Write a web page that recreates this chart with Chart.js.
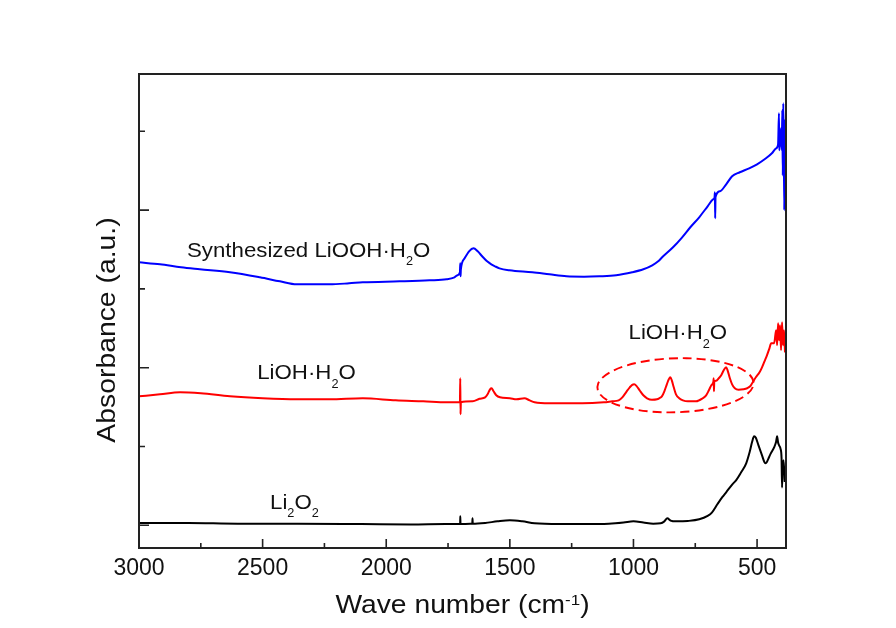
<!DOCTYPE html>
<html>
<head>
<meta charset="utf-8">
<script src="https://cdn.jsdelivr.net/npm/chart.js@4.4.1/dist/chart.umd.min.js"></script>
<style>
  html, body { margin: 0; padding: 0; background: #fff; }
  canvas { display: block; }
</style>
</head>
<body>
<canvas id="c" width="896" height="628"></canvas>
<script>
// FTIR spectra, wavenumber (cm-1) vs. absorbance (offset, arbitrary units)
const wnLiOOH = [3000,2915,2830,2754,2632,2511,2430,2362,2229,2150,2095,1946,1825,1756,1724,1712,1702,1700.5,1699.5,1698,1683,1665,1647,1630,1612,1592,1575,1560,1542,1502,1409,1340,1271,1200,1138,1070,1005,960,924,900,884,840,803,770,734,700,678,672,670.5,669.5,668,650,625,601,570,532,500,464,440,423,415,411.5,410.5,407,403,400,398,396,394,392,390,388,386,384];
const absLiOOH = [3.338,3.312,3.274,3.249,3.211,3.147,3.096,3.058,3.058,3.071,3.084,3.096,3.109,3.122,3.147,3.173,3.21,3.325,3.160,3.25,3.388,3.477,3.515,3.477,3.414,3.350,3.312,3.287,3.261,3.236,3.211,3.185,3.160,3.155,3.160,3.173,3.211,3.249,3.299,3.350,3.401,3.528,3.655,3.782,3.909,4.048,4.137,4.16,4.226,3.896,4.165,4.239,4.327,4.429,4.480,4.530,4.581,4.657,4.721,4.784,4.835,5.228,4.759,4.86,5.04,4.76,5.27,4.44,5.355,4.886,3.997,5.14,4.95,4.63];

const wnLiOH = [3000,2915,2834,2750,2632,2500,2362,2229,2095,1962,1850,1756,1702,1700.5,1699.5,1698,1650,1623,1600,1590,1580,1574,1566,1555,1540,1500,1473,1441,1420,1400,1340,1207,1120,1086,1060,1045,1030,1015,1005,997,988,975,960,945,925,905,896,885,875,865,857,851,845,837,828,815,800,780,746,720,706,695,685,676.5,675.5,674.5,673,665,655,645,635,625,618,610,601,590,575,555,540,528,520,505,490,480,470,460,450,443,431,423,419,415,411,407,403,399,395,391,387];
const absLiOH = [1.637,1.662,1.688,1.675,1.637,1.612,1.599,1.599,1.612,1.586,1.574,1.561,1.561,1.866,1.409,1.561,1.574,1.605,1.624,1.662,1.726,1.739,1.701,1.650,1.624,1.612,1.599,1.612,1.586,1.561,1.548,1.548,1.561,1.574,1.586,1.624,1.688,1.751,1.783,1.789,1.770,1.713,1.650,1.612,1.593,1.599,1.612,1.637,1.701,1.789,1.853,1.878,1.840,1.751,1.662,1.612,1.586,1.574,1.574,1.612,1.650,1.713,1.777,1.827,1.866,1.70,1.827,1.835,1.866,1.904,1.967,2.005,1.954,1.866,1.789,1.739,1.720,1.726,1.739,1.764,1.802,1.878,1.942,2.005,2.081,2.157,2.246,2.310,2.31,2.475,2.284,2.563,2.348,2.538,2.221,2.576,2.284,2.475,2.195];

const wnLi2O2 = [3000,2800,2600,2362,2100,1900,1760,1701,1700.5,1699.5,1660,1652,1651,1650,1600,1550,1500,1450,1400,1300,1200,1100,1040,1000,960,920,890,875,863,850,827,780,734,700,682,660,640,625,600,585,565,544,530,520,512,505,495,480,470,464,455,445,431,423,419,415,411,405,401,399,397,393,388];
const absLi2O2 = [0.03,0.03,0.02,0.02,0.015,0.01,0.015,0.015,0.114,0.015,0.02,0.02,0.089,0.02,0.03,0.05,0.063,0.05,0.025,0.015,0.015,0.02,0.035,0.05,0.035,0.02,0.025,0.05,0.089,0.06,0.05,0.055,0.076,0.12,0.165,0.27,0.36,0.419,0.52,0.571,0.67,0.787,0.93,1.06,1.129,1.11,1.02,0.888,0.80,0.787,0.84,0.91,0.99,1.06,1.13,1.05,1.015,0.97,0.85,0.48,0.70,0.825,0.55];

// axis ticks
const xTickLabels = [3000, 2500, 2000, 1500, 1000, 500];
const xMinorTicks = [2750, 2250, 1750, 1250, 750];
const yMajorTicks = [0, 2, 4];
const yMinorTicks = [1, 3, 5];

// text labels on the plot (anchored at wavenumber / absorbance of the left baseline point)
const FONT = '"Liberation Sans", Arial, Helvetica, sans-serif';
const noteLabels = [
  { wn: 2806, abs: 3.405, runs: [['Synthesized LiOOH\u00B7H'], ['2', 'sub'], ['O']] },
  { wn: 2522, abs: 1.853, runs: [['LiOH\u00B7H'], ['2', 'sub'], ['O']] },
  { wn: 1020, abs: 2.360, runs: [['LiOH\u00B7H'], ['2', 'sub'], ['O']] },
  { wn: 2470, abs: 0.212, runs: [['Li'], ['2', 'sub'], ['O'], ['2', 'sub']] }
];
// dashed ring around the LiOH·H2O lattice bands
const ring = { wn: 830, abs: 1.777, halfWn: 316, halfAbs: 0.343 };

const toPoints = (xs, ys) => xs.map((v, i) => ({ x: v, y: ys[i] }));

function runWidth(ctx, runs, size, subSize) {
  let w = 0;
  for (const [t, kind] of runs) {
    ctx.font = (kind ? subSize : size) + 'px ' + FONT;
    w += ctx.measureText(t).width;
  }
  return w;
}

// draws text runs with sub/superscripts; (x, y) = left end of the baseline
function drawRuns(ctx, x, y, runs, o) {
  ctx.save();
  ctx.translate(x, y);
  ctx.scale(o.sx, 1);
  ctx.fillStyle = '#111';
  ctx.textBaseline = 'alphabetic';
  ctx.textAlign = 'left';
  let cx = 0;
  for (const [t, kind] of runs) {
    const sz = kind ? o.subSize : o.size;
    ctx.font = sz + 'px ' + FONT;
    const dy = kind === 'sub' ? o.subDrop : (kind === 'sup' ? -o.supRise : 0);
    ctx.fillText(t, cx, dy);
    cx += ctx.measureText(t).width;
  }
  ctx.restore();
}

const decorations = {
  id: 'decorations',
  afterDatasetsDraw(chart) {
    const { ctx, chartArea: a, scales: { x, y } } = chart;

    // dashed ellipse
    ctx.save();
    const cx = x.getPixelForValue(ring.wn), cy = y.getPixelForValue(ring.abs);
    const rx = Math.abs(x.getPixelForValue(ring.wn - ring.halfWn) - cx);
    const ry = Math.abs(y.getPixelForValue(ring.abs + ring.halfAbs) - cy);
    ctx.strokeStyle = '#f00';
    ctx.lineWidth = 1.9;
    ctx.setLineDash([9, 5]);
    ctx.beginPath();
    ctx.ellipse(cx, cy, rx, ry, -0.03, 0.15, Math.PI * 2 + 0.15);
    ctx.stroke();
    ctx.restore();

    // frame
    ctx.save();
    ctx.strokeStyle = '#222';
    ctx.lineWidth = 2;
    ctx.strokeRect(a.left, a.top, a.right - a.left, a.bottom - a.top);

    // inward ticks
    ctx.lineWidth = 1.6;
    ctx.beginPath();
    xTickLabels.forEach(v => { const p = x.getPixelForValue(v); ctx.moveTo(p, a.bottom); ctx.lineTo(p, a.bottom - 9); });
    xMinorTicks.forEach(v => { const p = x.getPixelForValue(v); ctx.moveTo(p, a.bottom); ctx.lineTo(p, a.bottom - 5); });
    yMajorTicks.forEach(v => { const p = y.getPixelForValue(v); ctx.moveTo(a.left, p); ctx.lineTo(a.left + 10, p); });
    yMinorTicks.forEach(v => { const p = y.getPixelForValue(v); ctx.moveTo(a.left, p); ctx.lineTo(a.left + 6, p); });
    ctx.stroke();
    ctx.restore();

    // curve labels
    const lab = { size: 21, subSize: 12, subDrop: 8.5, supRise: 0, sx: 1.06 };
    noteLabels.forEach(n => {
      drawRuns(ctx, x.getPixelForValue(n.wn), y.getPixelForValue(n.abs), n.runs, lab);
    });

    // x axis title
    const xt = { size: 25, subSize: 15, subDrop: 0, supRise: 8, sx: 1.13 };
    const xRuns = [['Wave number (cm'], ['-1', 'sup'], [')']];
    ctx.save();
    const xw = runWidth(ctx, xRuns, xt.size, xt.subSize) * xt.sx;
    ctx.restore();
    drawRuns(ctx, (a.left + a.right) / 2 - xw / 2, 613, xRuns, xt);

    // y axis title
    const yt = { size: 26, subSize: 14, subDrop: 0, supRise: 0, sx: 1.09 };
    const yRuns = [['Absorbance (a.u.)']];
    ctx.save();
    const yw = runWidth(ctx, yRuns, yt.size, yt.subSize) * yt.sx;
    ctx.translate(115, 330);
    ctx.rotate(-Math.PI / 2);
    drawRuns(ctx, -yw / 2, 0, yRuns, yt);
    ctx.restore();
  }
};

const lineStyle = { pointRadius: 0, borderWidth: 2, cubicInterpolationMode: 'monotone', fill: false };

new Chart(document.getElementById('c'), {
  type: 'line',
  data: {
    datasets: [
      { label: 'Synthesized LiOOH·H2O', data: toPoints(wnLiOOH, absLiOOH), borderColor: '#0000ff', ...lineStyle },
      { label: 'LiOH·H2O', data: toPoints(wnLiOH, absLiOH), borderColor: '#ff0000', ...lineStyle },
      { label: 'Li2O2', data: toPoints(wnLi2O2, absLi2O2), borderColor: '#000000', ...lineStyle }
    ]
  },
  options: {
    responsive: false,
    animation: false,
    devicePixelRatio: 1,
    layout: { padding: { left: 139, right: 110, top: 74, bottom: 0 } },
    plugins: { legend: { display: false }, tooltip: { enabled: false } },
    scales: {
      x: {
        type: 'linear',
        reverse: true,
        min: 383,
        max: 3000,
        grid: { display: false, drawTicks: false },
        border: { display: false },
        afterBuildTicks: s => { s.ticks = xTickLabels.map(v => ({ value: v })); },
        afterFit: s => { s.height = 80; },
        ticks: {
          padding: 7,
          maxRotation: 0,
          autoSkip: false,
          color: '#111',
          font: { family: FONT, size: 23 },
          callback: v => String(v)
        }
      },
      y: {
        type: 'linear',
        display: false,
        min: -0.288,
        max: 5.727
      }
    }
  },
  plugins: [decorations]
});
</script>
</body>
</html>
